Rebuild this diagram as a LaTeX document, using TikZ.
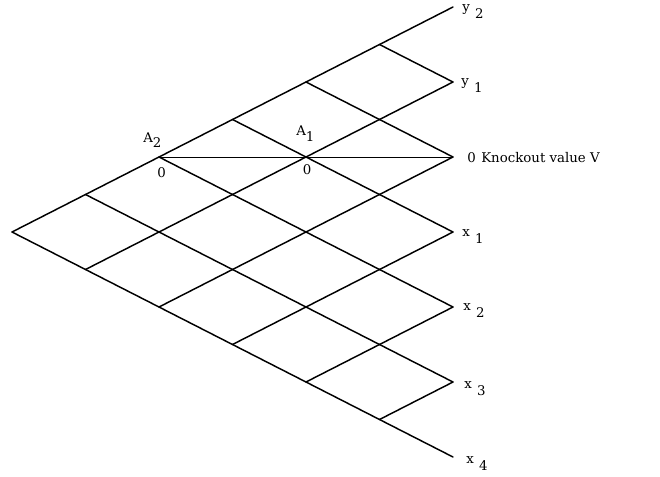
\documentclass[tikz,border=0pt]{standalone}
\usepackage{fontspec}
\setmainfont{DejaVu Serif}
\begin{document}
\begin{tikzpicture}[x=0.75pt,y=-0.75pt,
  lat/.style={line width=1.1pt, line cap=round, line join=round},
  barrier/.style={line width=0.6pt},
  lab/.style={inner sep=0pt, font=\fontsize{10}{12}\selectfont}]
\useasboundingbox (0,0) rectangle (660,476);
% lattice points: n<t>-<j>, t = time step, j = number of up moves
\foreach \t in {0,...,6} {
  \foreach \j in {0,...,\t} {
    \pgfmathsetmacro\xx{12+73.5*\t}
    \pgfmathsetmacro\yy{232-37.5*(2*\j-\t)}
    \coordinate (n\t-\j) at (\xx,\yy);
  }
}
% lattice edges
\foreach \t in {0,...,5} {
  \foreach \j in {0,...,\t} {
    \pgfmathtruncatemacro\tn{\t+1}
    \pgfmathtruncatemacro\jn{\j+1}
    \draw[lat] (n\t-\j) -- (n\tn-\jn);
    \draw[lat] (n\t-\j) -- (n\tn-\j);
  }
}
% knockout barrier
\draw[barrier] (n2-2) -- (n6-4);
% labels
\newcommand{\lowdig}[1]{\hspace{0.4em}\raisebox{-0.55em}{#1}}
\node[lab, anchor=base west] (ly2) at (462,11) {y\lowdig{2}};
\node[lab, anchor=base west] (ly1) at (461,85) {y\lowdig{1}};
\node[lab, anchor=base west] (l0) at (467,162) {0};
\node[lab, anchor=base west] (lko) at (481,162) {Knockout value V};
\node[lab, anchor=base west] (lx1) at (462,236) {x\lowdig{1}};
\node[lab, anchor=base west] (lx2) at (463,310) {x\lowdig{2}};
\node[lab, anchor=base west] (lx3) at (464,388) {x\lowdig{3}};
\node[lab, anchor=base west] (lx4) at (466,463) {x\lowdig{4}};
\node[lab, anchor=base west] (lA2) at (143,142) {A\raisebox{-0.4em}{2}};
\node[lab, anchor=base west] (lA1) at (296,135) {A\raisebox{-0.5em}{1}};
\node[lab, anchor=base] (lz2) at (161.5,177) {0};
\node[lab, anchor=base] (lz1) at (307,174) {0};
\end{tikzpicture}
\end{document}
